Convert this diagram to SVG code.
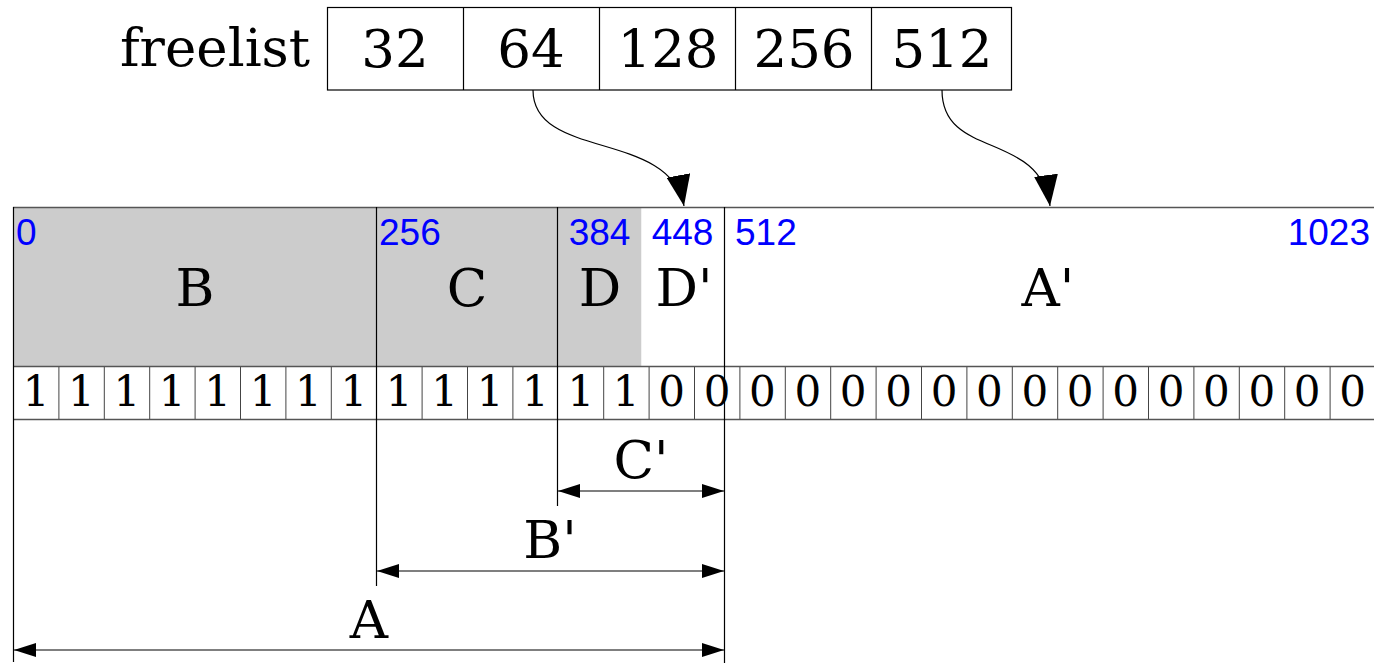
<svg xmlns="http://www.w3.org/2000/svg" width="1374" height="663" viewBox="0 0 1374 663">
  <defs>
    <style>
      .big{font-family:"DejaVu Serif",serif;font-size:53px;fill:#000;text-anchor:middle}
      .bit{font-family:"DejaVu Serif",serif;font-size:42px;fill:#000;text-anchor:middle}
      .addr{font-family:"Liberation Sans",Arial,sans-serif;font-size:37px;fill:#0000ff}
      .ln{stroke:#000;stroke-width:1.2;fill:none}
      .row{stroke:#555;stroke-width:1.4;fill:none}
      .cell{stroke:#444;stroke-width:1;fill:none}
      .used{fill:#cccccc}
      .free{fill:#ffffff}
    </style>
    <marker id="head" markerUnits="userSpaceOnUse" markerWidth="32" markerHeight="24" refX="31" refY="12" orient="auto">
      <path d="M0,0 L31,12 L0,24 z" fill="#000"/>
    </marker>
    <marker id="dim" markerUnits="userSpaceOnUse" markerWidth="22" markerHeight="14" refX="22" refY="7" orient="auto-start-reverse">
      <path d="M0,0 L22,7 L0,14 z" fill="#000"/>
    </marker>
  </defs>

  <!-- free list header -->
  <g id="freelist">
    <text x="120" y="66" style="font-family:'DejaVu Serif',serif;font-size:53px">freelist</text>
    <rect x="327.5" y="7.5" width="684" height="82.5" fill="#fff" stroke="#000" stroke-width="1.2"/>
    <path class="ln" d="M463.5,7.5V90 M599.5,7.5V90 M735.5,7.5V90 M871.5,7.5V90"/>
    <g id="fl-32"><text class="big" x="395" y="67">32</text></g>
    <g id="fl-64"><text class="big" x="531" y="67">64</text></g>
    <g id="fl-128"><text class="big" x="668" y="67">128</text></g>
    <g id="fl-256"><text class="big" x="804" y="67">256</text></g>
    <g id="fl-512"><text class="big" x="942" y="67">512</text></g>
  </g>

  <!-- memory blocks -->
  <g id="block-B">
    <rect class="used" x="13.5" y="207.5" width="363" height="159"/>
    <text class="addr" x="16" y="245">0</text>
    <text class="big" x="195" y="306">B</text>
  </g>
  <g id="block-C">
    <rect class="used" x="376.5" y="207.5" width="181" height="159"/>
    <text class="addr" x="379" y="245">256</text>
    <text class="big" x="467" y="306">C</text>
  </g>
  <g id="block-D">
    <rect class="used" x="557.5" y="207.5" width="84" height="159"/>
    <text class="addr" x="599.5" y="245" text-anchor="middle">384</text>
    <text class="big" x="600" y="306">D</text>
  </g>
  <g id="block-Dp">
    <rect class="free" x="641.5" y="207.5" width="83" height="159"/>
    <text class="addr" x="682.5" y="245" text-anchor="middle">448</text>
    <text class="big" x="684" y="306">D'</text>
  </g>
  <g id="block-Ap">
    <rect class="free" x="724.5" y="207.5" width="650" height="159"/>
    <text class="addr" x="735" y="245">512</text>
    <text class="addr" x="1370" y="245" text-anchor="end">1023</text>
    <text class="big" x="1048" y="306">A'</text>
  </g>

  <!-- bitmap row -->
  <g id="bitmap">
    <path class="cell" d="M58.9,366.5V419.5 M104.3,366.5V419.5 M149.7,366.5V419.5 M195.1,366.5V419.5 M240.5,366.5V419.5 M285.9,366.5V419.5 M331.3,366.5V419.5 M422.1,366.5V419.5 M467.5,366.5V419.5 M512.9,366.5V419.5 M603.7,366.5V419.5 M649.1,366.5V419.5 M694.5,366.5V419.5 M739.9,366.5V419.5 M785.3,366.5V419.5 M830.7,366.5V419.5 M876.1,366.5V419.5 M921.5,366.5V419.5 M966.9,366.5V419.5 M1012.3,366.5V419.5 M1057.7,366.5V419.5 M1103.1,366.5V419.5 M1148.5,366.5V419.5 M1193.9,366.5V419.5 M1239.3,366.5V419.5 M1284.7,366.5V419.5 M1330.1,366.5V419.5"/>
    <path class="row" d="M13,207.5H1374 M13,366.5H1374 M13,419.5H1374"/>
    <text class="bit" x="36" y="406">1</text>
    <text class="bit" x="81.4" y="406">1</text>
    <text class="bit" x="126.8" y="406">1</text>
    <text class="bit" x="172.2" y="406">1</text>
    <text class="bit" x="217.6" y="406">1</text>
    <text class="bit" x="263" y="406">1</text>
    <text class="bit" x="308.4" y="406">1</text>
    <text class="bit" x="353.8" y="406">1</text>
    <text class="bit" x="399.2" y="406">1</text>
    <text class="bit" x="444.6" y="406">1</text>
    <text class="bit" x="490" y="406">1</text>
    <text class="bit" x="535.4" y="406">1</text>
    <text class="bit" x="580.8" y="406">1</text>
    <text class="bit" x="626.2" y="406">1</text>
    <text class="bit" x="671.6" y="406">0</text>
    <text class="bit" x="717" y="406">0</text>
    <text class="bit" x="762.4" y="406">0</text>
    <text class="bit" x="807.8" y="406">0</text>
    <text class="bit" x="853.2" y="406">0</text>
    <text class="bit" x="898.6" y="406">0</text>
    <text class="bit" x="944" y="406">0</text>
    <text class="bit" x="989.4" y="406">0</text>
    <text class="bit" x="1034.8" y="406">0</text>
    <text class="bit" x="1080.2" y="406">0</text>
    <text class="bit" x="1125.6" y="406">0</text>
    <text class="bit" x="1171" y="406">0</text>
    <text class="bit" x="1216.4" y="406">0</text>
    <text class="bit" x="1261.8" y="406">0</text>
    <text class="bit" x="1307.2" y="406">0</text>
    <text class="bit" x="1352.6" y="406">0</text>
  </g>

  <!-- boundary lines between blocks, extended down as dimension witnesses -->
  <g id="boundaries">
    <path class="ln" d="M13.5,207V662 M376.5,207V586 M557.5,207V506 M724.5,207V663"/>
  </g>

  <!-- span labels -->
  <g id="span-Cp"><text class="big" x="641" y="478">C'</text></g>
  <g id="span-Bp"><text class="big" x="550" y="558">B'</text></g>
  <g id="span-A"><text class="big" x="369" y="638">A</text></g>

  <!-- connectors -->
  <g id="connectors">
    <path class="ln" d="M533,90 C533,160 670,130 684,206" marker-end="url(#head)"/>
    <path class="ln" d="M942,90 C942,160 1040,130 1050,206" marker-end="url(#head)"/>
    <path class="ln" d="M558,491H724" marker-start="url(#dim)" marker-end="url(#dim)"/>
    <path class="ln" d="M377,571H724" marker-start="url(#dim)" marker-end="url(#dim)"/>
    <path class="ln" d="M14,650H724" marker-start="url(#dim)" marker-end="url(#dim)"/>
  </g>
</svg>
